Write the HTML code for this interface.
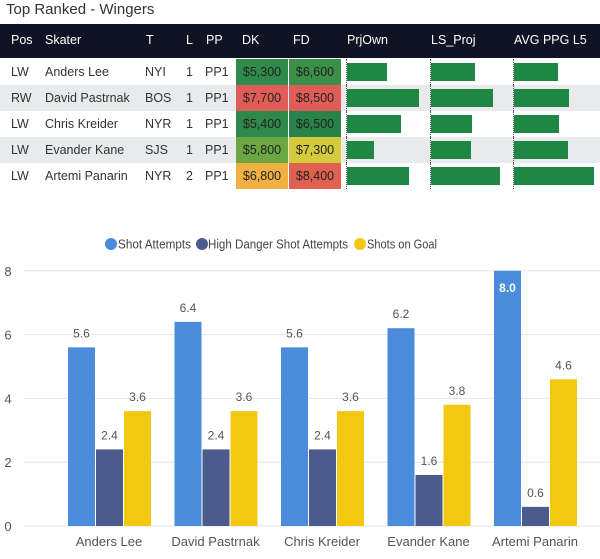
<!DOCTYPE html>
<html><head><meta charset="utf-8"><style>
body{margin:0;width:600px;height:559px;background:#fff;font-family:"Liberation Sans","DejaVu Sans",sans-serif;position:relative;overflow:hidden;color:#222}
.t{position:absolute;white-space:nowrap}
#hdr{position:absolute;left:0;top:24px;width:600px;height:34px;background:#0f1424}
.h{position:absolute;color:#fff;font-size:12.5px;top:33px}
.row{position:absolute;left:0;width:600px;height:26px}
.c{position:absolute;font-size:12.5px;top:6px;color:#333;white-space:nowrap}
.cell{position:absolute;top:0;height:26px;width:52px;font-size:12.5px;text-align:center;line-height:26px;color:#222}
.bar{position:absolute;top:4px;height:18px;background:#1e8744}
.dl{position:absolute;top:0;width:1px;height:26px;border-left:1px dotted #555}
</style></head><body>
<div class="t" style="left:6px;top:1px;font-size:15px;color:#333">Top Ranked - Wingers</div>
<div id="hdr"></div>
<div class="h" style="left:11px">Pos</div>
<div class="h" style="left:45px">Skater</div>
<div class="h" style="left:146px">T</div>
<div class="h" style="left:186px">L</div>
<div class="h" style="left:206px">PP</div>
<div class="h" style="left:242px">DK</div>
<div class="h" style="left:293px">FD</div>
<div class="h" style="left:347px">PrjOwn</div>
<div class="h" style="left:431px">LS_Proj</div>
<div class="h" style="left:514px">AVG PPG L5</div>
<div id="rows"></div>
<svg id="chart" width="600" height="559" style="position:absolute;left:0;top:0"></svg>
<script>
const players=["Anders Lee","David Pastrnak","Chris Kreider","Evander Kane","Artemi Panarin"];
const pos=["LW","RW","LW","LW","LW"];
const teams=["NYI","BOS","NYR","SJS","NYR"];
const lines=[1,1,1,1,2];
const pps=["PP1","PP1","PP1","PP1","PP1"];
const dk=["$5,300","$7,700","$5,400","$5,800","$6,800"];
const fd=["$6,600","$8,500","$6,500","$7,300","$8,400"];
const dkColors=["#2f8b4b","#e05c56","#2e8849","#6ba843","#f0b141"];
const fdColors=["#3a9047","#e05c56","#28824a","#d3cb3c","#e0614f"];
const prjOwn=[40,72,54,27,62];
const lsProj=[44,62,41,40,69];
const avgPpg=[44,55,45,54,80];
const shotAttempts=[5.6,6.4,5.6,6.2,8.0];
const highDanger=[2.4,2.4,2.4,1.6,0.6];
const shotsOnGoal=[3.6,3.6,3.6,3.8,4.6];
const yTicks=[0,2,4,6,8];

const R=document.getElementById('rows');
players.forEach((p,i)=>{
 const r=document.createElement('div');r.className='row';
 
 
 r.style.top=(59+i*26)+'px';r.style.background=i%2?'#e9eaec':'#fff';
 let h='';
 [[pos[i],11],[p,45],[teams[i],145],[lines[i],186],[pps[i],205]].forEach(([v,x])=>h+=`<div class="c" style="left:${x}px">${v}</div>`);
 h+=`<div class="cell" style="left:236px;background:${dkColors[i]}">${dk[i]}</div>`;
 h+=`<div class="cell" style="left:289px;background:${fdColors[i]}">${fd[i]}</div>`;
 [[prjOwn,347],[lsProj,431],[avgPpg,514]].forEach(([a,x])=>{h+=`<div class="dl" style="left:${x-1}px"></div><div class="bar" style="left:${x}px;width:${a[i]}px"></div>`;});
 r.innerHTML=h;R.appendChild(r);
});
const S=document.getElementById('chart');const ns='http://www.w3.org/2000/svg';
function el(t,a,txt){const e=document.createElementNS(ns,t);for(const k in a)e.setAttribute(k,a[k]);if(txt!==undefined)e.textContent=txt;S.appendChild(e);return e;}
const y=v=>526-v*31.9;
const gx=i=>68+i*106.5;
yTicks.forEach(v=>{const g=el('line',{x1:24,x2:600,y1:y(v),y2:y(v),stroke:'#e6e6e6'});
 const t=el('text',{x:8,y:y(v)+5,'font-size':13,fill:'#555','text-anchor':'middle'},v);});
const series=[[shotAttempts,'#4a8bdb'],[highDanger,'#4a5b8c'],[shotsOnGoal,'#f2c811']];
players.forEach((p,i)=>{
 series.forEach(([arr,c],s)=>{
  const x=gx(i)+s*28,v=arr[i];
  const b=el('rect',{x:x,y:y(v),width:27,height:y(0)-y(v),fill:c});
  
  const inside=v>=7.5;
  const l=el('text',{x:x+13.5,y:inside?y(v)+21:y(v)-10,'font-size':12,fill:inside?'#fff':'#555','font-weight':inside?'bold':'normal','text-anchor':'middle'},v.toFixed(1));
  
 });
 const t=el('text',{x:gx(i)+41,y:546,'font-size':13,fill:'#555','text-anchor':'middle'},p);
 
});
const leg=[['Shot Attempts','#4a8bdb',111,118,73],['High Danger Shot Attempts','#4a5b8c',202,208,140],['Shots on Goal','#f2c811',360,367,70]];
leg.forEach(([n,c,cx,tx,w])=>{const d=el('circle',{cx:cx,cy:244,r:6,fill:c});
 const t=el('text',{x:tx,y:248.5,'font-size':13,fill:'#444',textLength:w,lengthAdjust:'spacingAndGlyphs'},n);});
</script>
</body></html>
